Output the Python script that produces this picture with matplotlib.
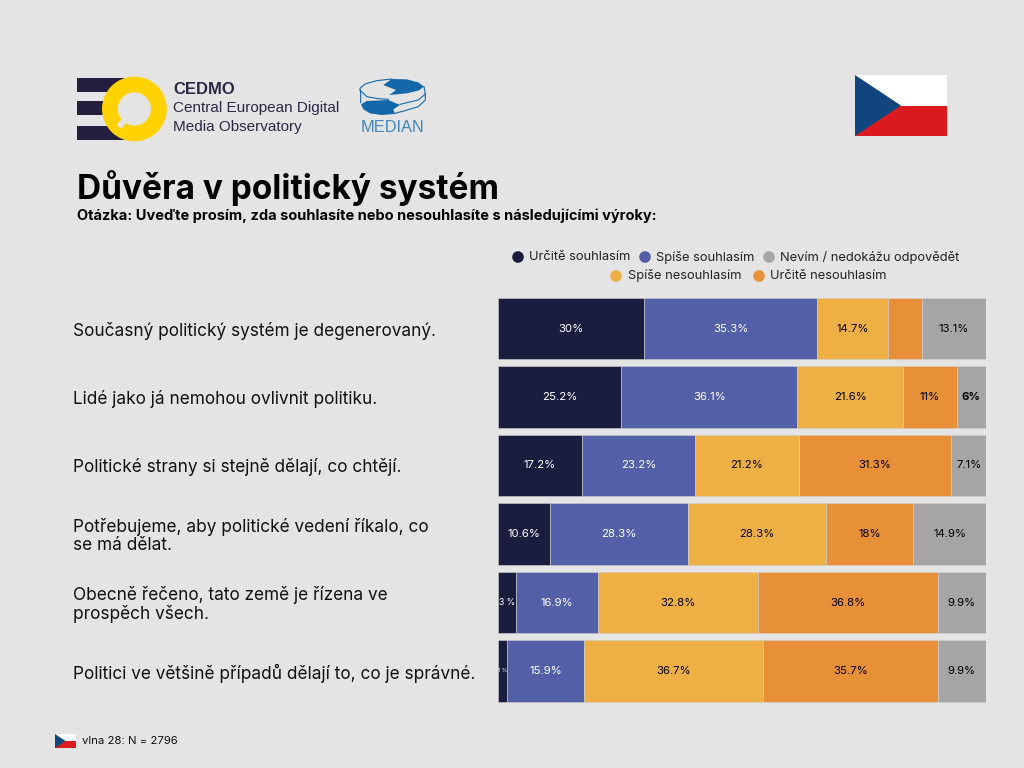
import numpy as np
import pandas as pd
import matplotlib
matplotlib.use("Agg")
import matplotlib.pyplot as plt
from matplotlib.patches import Circle, Polygon, Rectangle

W, H = 1024, 768
BG = "#e4e4e4"
FONT = "Inter"

# data
statements = [
    "Současný politický systém je degenerovaný.",
    "Lidé jako já nemohou ovlivnit politiku.",
    "Politické strany si stejně dělají, co chtějí.",
    "Potřebujeme, aby politické vedení říkalo, co\nse má dělat.",
    "Obecně řečeno, tato země je řízena ve\nprospěch všech.",
    "Politici ve většině případů dělají to, co je správné.",
]
urcite_souhlasim = [30, 25.2, 17.2, 10.6, 3.6, 1.8]
spise_souhlasim = [35.3, 36.1, 23.2, 28.3, 16.9, 15.9]
spise_nesouhlasim = [14.7, 21.6, 21.2, 28.3, 32.8, 36.7]
urcite_nesouhlasim = [6.9, 11, 31.3, 18, 36.8, 35.7]
nevim = [13.1, 6, 7.1, 14.9, 9.9, 9.9]

# labels as printed, some are cut off or missing in the source
labels_us = ["30%", "25.2%", "17.2%", "10.6%", "3 %", "1 %"]
labels_ss = ["35.3%", "36.1%", "23.2%", "28.3%", "16.9%", "15.9%"]
labels_sn = ["14.7%", "21.6%", "21.2%", "28.3%", "32.8%", "36.7%"]
labels_un = ["", "11%", "31.3%", "18%", "36.8%", "35.7%"]
labels_ne = ["13.1%", "6%", "7.1%", "14.9%", "9.9%", "9.9%"]

df = pd.DataFrame({
    "Určitě souhlasím": urcite_souhlasim,
    "Spíše souhlasím": spise_souhlasim,
    "Spíše nesouhlasím": spise_nesouhlasim,
    "Určitě nesouhlasím": urcite_nesouhlasim,
    "Nevím / nedokážu odpovědět": nevim,
})
df = df.div(df.sum(axis=1), axis=0) * 100
labels = [labels_us, labels_ss, labels_sn, labels_un, labels_ne]

NAVY = "#1b1d3f"
BLUE = "#5360a8"
YELLOW = "#eeb044"
ORANGE = "#e89038"
GRAY = "#a5a5a5"
colors = [NAVY, BLUE, YELLOW, ORANGE, GRAY]
text_colors = ["white", "white", "black", "black", "black"]

fig = plt.figure(figsize=(W / 100, H / 100), dpi=100)
fig.patch.set_facecolor(BG)

# overlay in pixel coordinates for logos and header
deco = fig.add_axes([0, 0, 1, 1])
deco.set_xlim(0, W)
deco.set_ylim(H, 0)
deco.axis("off")


def draw_flag(ax, x, y, w, h):
    ax.add_patch(Rectangle((x, y), w, h / 2, color="white", lw=0))
    ax.add_patch(Rectangle((x, y + h / 2), w, h / 2, color="#db1a1f", lw=0))
    ax.add_patch(Polygon([(x, y), (x + w / 2, y + h / 2), (x, y + h)], color="#11457e", lw=0))


# CEDMO logo
for top, bottom in [(78, 92), (101, 115), (126, 140)]:
    deco.add_patch(Rectangle((77, top), 50, bottom - top, color="#241f3f", lw=0))
deco.add_patch(Circle((134.4, 109), 32.4, color="#ffd200", lw=0))
deco.add_patch(Circle((134.4, 109), 16.6, color=BG, lw=0))
deco.plot([125.5, 119], [119, 127], color=BG, lw=4.2, solid_capstyle="butt")
deco.text(173, 89.5, "CEDMO", fontsize=12, fontweight="bold", family="Liberation Sans",
          color="#2b2745", va="center")
deco.text(173, 108, "Central European Digital", fontsize=11, family="Liberation Sans",
          color="#2b2745", va="center")
deco.text(173, 127, "Media Observatory", fontsize=11, family="Liberation Sans",
          color="#2b2745", va="center")


# MEDIAN logo, outline traced on a 3x crop
def med(pts):
    return [(350 + px / 3, 70 + py / 3) for px, py in pts]


MED = "#1368aa"
deco.add_patch(Polygon(med([(125, 27), (170, 28), (205, 37), (222, 50), (205, 62), (170, 70),
                            (118, 75), (138, 60), (100, 45)]), color=MED, lw=0))
deco.add_patch(Polygon(med([(33, 103), (50, 93), (115, 90), (150, 105), (130, 118), (135, 132),
                            (95, 135), (60, 130), (40, 118)]), color=MED, lw=0))
outlines = [
    [(125, 27), (80, 32), (45, 42), (30, 55), (32, 70), (32, 98)],
    [(30, 60), (50, 80), (85, 86), (115, 88)],
    [(222, 50), (226, 72), (205, 90), (150, 103)],
    [(226, 72), (226, 90), (205, 110), (165, 122), (135, 130)],
]
for line in outlines:
    xs, ys = zip(*med(line))
    deco.plot(xs, ys, color=MED, lw=0.8)
deco.text(392.5, 127, "MEDIAN", fontsize=11.8, family="Liberation Sans", color="#3f86bd",
          ha="center", va="center")

draw_flag(deco, 855, 75, 92, 61)
draw_flag(deco, 55, 734, 21, 14)

# title block
deco.text(77, 188, "Důvěra v politický systém", fontsize=24, fontweight="bold",
          family=FONT, color="black", va="center")
deco.text(77, 216, "Otázka: Uveďte prosím, zda souhlasíte nebo nesouhlasíte s následujícími výroky:",
          fontsize=10.5, fontweight="bold", family=FONT, color="black", va="center")
deco.text(82, 741, "vlna 28: N = 2796", fontsize=8.2, family=FONT, color="#111111", va="center")

# legend, two centred rows
legend_pos = [(518, 529, 257), (645, 656, 257), (616, 628, 276), (759, 770, 276), (769, 780, 257)]
for name, color, (dot_x, text_x, y) in zip(df.columns, colors, legend_pos):
    deco.add_patch(Circle((dot_x, y), 5.8, color=color, lw=0))
    deco.text(text_x, y, name, fontsize=9.3, family=FONT, color="#222222", va="center")

# stacked bars
ax = fig.add_axes([498 / W, 1 - 705.25 / H, 488 / W, 411 / H])
ax.patch.set_alpha(0)
y = np.arange(len(statements))
left = np.zeros(len(statements))
for col, color, tc, lab in zip(df.columns, colors, text_colors, labels):
    vals = df[col].values
    ax.barh(y, vals, left=left, height=0.9, color=color, edgecolor="#cfcfcf", linewidth=0.4)
    for yi, v, l, s in zip(y, vals, left, lab):
        size = 8.2
        if v < 5:
            size = 6.2 if v > 3 else 4
        weight = "bold" if s == "6%" else "normal"
        ax.text(l + v / 2, yi, s, ha="center", va="center", color=tc, fontsize=size,
                family=FONT, fontweight=weight)
    left = left + vals

ax.set_xlim(0, 100)
ax.set_ylim(5.5, -0.5)
ax.set_xticks([])
ax.set_yticks(y)
ax.set_yticklabels(statements, fontsize=12.4, family=FONT, color="#111111", ha="left", linespacing=1.02)
ax.tick_params(axis="y", length=0, pad=(498 - 73) * 0.72)
for sp in ax.spines.values():
    sp.set_visible(False)

fig.savefig("out.png", dpi=100, facecolor=BG)
